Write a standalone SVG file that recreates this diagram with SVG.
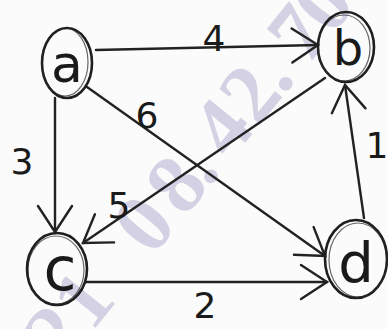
<svg xmlns="http://www.w3.org/2000/svg" width="388" height="329" viewBox="0 0 388 329">
<style>
.bg{fill:#fbfbfb}
.wm{font-family:"Liberation Serif",serif;font-weight:bold;font-size:84px;fill:#c6c4db;opacity:.75;text-anchor:middle}
.node{fill:none;stroke:#1e1e1e;stroke-width:2.6}
.node2{fill:none;stroke:#2a2a2a;stroke-width:1.2;opacity:.7}
.lbl{font-family:"DejaVu Sans",sans-serif;fill:#1a1a1a;text-anchor:middle}
.num{font-family:"DejaVu Sans",sans-serif;fill:#1a1a1a;text-anchor:middle;font-size:36px}
.edge{fill:none;stroke:#222;stroke-width:2.4;stroke-linecap:round}
</style>
<defs>
<marker id="arr" viewBox="-32 -22 36 44" refX="0" refY="0" markerWidth="36" markerHeight="44" markerUnits="userSpaceOnUse" orient="auto">
<path d="M-26,-17 L0,0 L-26,17" fill="none" stroke="#222" stroke-width="2.4" stroke-linecap="round"/>
</marker>
</defs>
<rect class="bg" x="0" y="0" width="388" height="329"/>
<text class="wm" transform="translate(143,223) rotate(-51)" x="-141 -97 0 51 79 124 168 198 245 284" y="29">2108.42.70</text>
<g id="connectors">
<line class="edge" x1="96" y1="50" x2="318" y2="45" marker-end="url(#arr)"/>
<line class="edge" x1="55" y1="98" x2="55" y2="232" marker-end="url(#arr)"/>
<line class="edge" x1="87" y1="87" x2="325" y2="256" marker-end="url(#arr)"/>
<line class="edge" x1="325" y1="78" x2="83" y2="243" marker-end="url(#arr)"/>
<line class="edge" x1="86" y1="282" x2="327" y2="282" marker-end="url(#arr)"/>
<line class="edge" x1="364" y1="218" x2="345" y2="85" marker-end="url(#arr)"/>
<text class="num" x="214" y="51">4</text>
<text class="num" x="147" y="128">6</text>
<text class="num" x="22" y="174">3</text>
<text class="num" x="119" y="218">5</text>
<text class="num" x="205" y="318">2</text>
<text class="num" x="377" y="158" font-size="30">1</text>
</g>
<g id="node-a">
<ellipse class="node" cx="67" cy="63" rx="25" ry="35"/>
<ellipse class="node2" cx="65" cy="62" rx="23" ry="34"/>
<text class="lbl" x="67" y="82" font-size="52">a</text>
</g>
<g id="node-b">
<ellipse class="node" cx="346" cy="47" rx="28" ry="35"/>
<ellipse class="node2" cx="344" cy="48" rx="26" ry="33"/>
<text class="lbl" x="348" y="65" font-size="48">b</text>
</g>
<g id="node-c">
<ellipse class="node" cx="57" cy="269" rx="30" ry="36"/>
<ellipse class="node2" cx="56" cy="270" rx="28" ry="34"/>
<text class="lbl" x="60" y="290" font-size="60">c</text>
</g>
<g id="node-d">
<ellipse class="node" cx="356" cy="259" rx="31" ry="39"/>
<ellipse class="node2" cx="358" cy="260" rx="29" ry="37"/>
<text class="lbl" x="356" y="282" font-size="56">d</text>
</g>
</svg>
